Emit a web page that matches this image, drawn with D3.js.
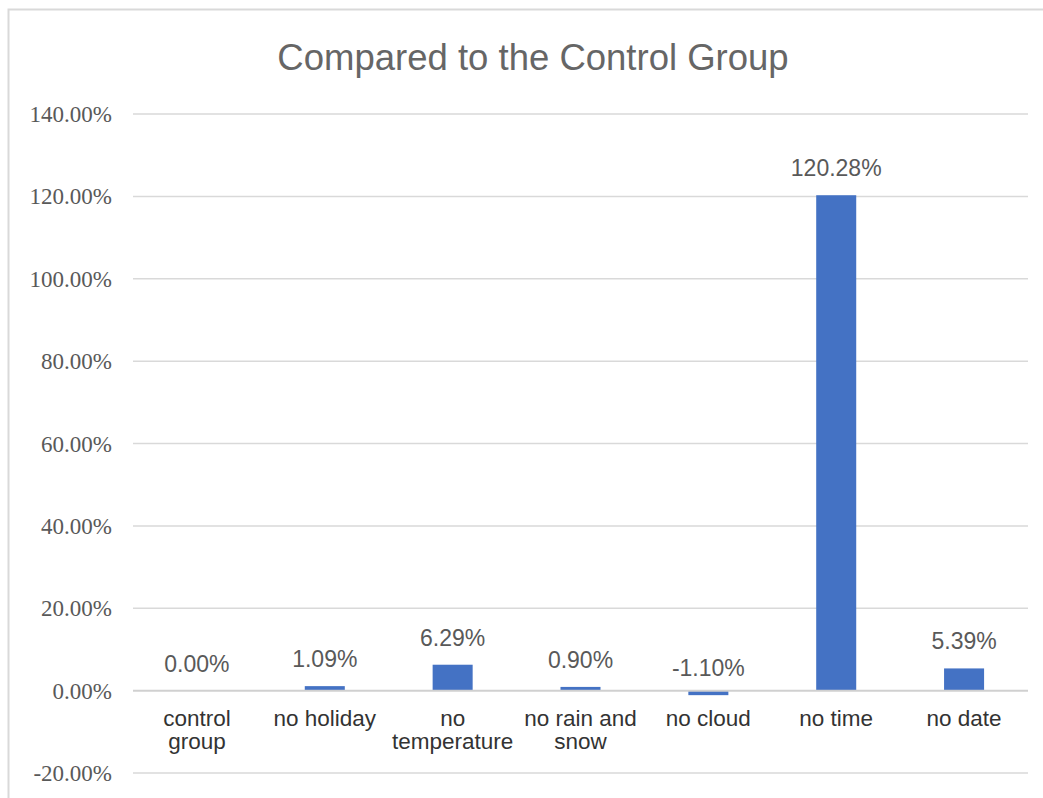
<!DOCTYPE html>
<html>
<head>
<meta charset="utf-8">
<script src="https://cdn.jsdelivr.net/npm/d3@7/dist/d3.min.js"></script>
<style>
html,body{margin:0;padding:0;background:#fff;}
svg{display:block;}
</style>
</head>
<body>
<svg id="chart" width="1043" height="798"></svg>
<script>
const categories = [["control","group"],["no holiday"],["no","temperature"],["no rain and","snow"],["no cloud"],["no time"],["no date"]];
const values = [0.00, 1.09, 6.29, 0.90, -1.10, 120.28, 5.39];
const yTicks = [-20, 0, 20, 40, 60, 80, 100, 120, 140];
const title = "Compared to the Control Group";

(function(){
const svg = d3.select("#chart");
const W = 1043, H = 798;
const mLeft = 133, mRight = 1028, mTop = 114, mBottom = 773;
const pct = d => d.toFixed(2) + "%";

// outer border
svg.append("path")
  .attr("d", `M8.5,${H+2} L8.5,9.5 L${W+2},9.5`)
  .attr("fill","none").attr("stroke","#d9d9d9").attr("stroke-width",2);

const x = d3.scaleBand().domain(d3.range(categories.length))
  .range([mLeft,mRight]).paddingInner(0.687).paddingOuter(0.3435);
const y = d3.scaleLinear().domain([-20,140]).range([mBottom, mTop]);

// gridlines
svg.append("g").selectAll("line").data(yTicks.filter(d=>d!==0)).join("line")
  .attr("x1",mLeft).attr("x2",mRight)
  .attr("y1",d=>y(d)).attr("y2",d=>y(d))
  .attr("stroke","#d9d9d9").attr("stroke-width",1.5);

// y axis labels
const yAxis = d3.axisLeft(y).tickValues(yTicks).tickSize(0).tickPadding(0)
  .tickFormat(pct);
const gy = svg.append("g").attr("transform",`translate(112,0)`).call(yAxis);
gy.attr("font-family", null).attr("font-size", null);
gy.select(".domain").remove();
gy.selectAll("text")
  .style("font-family","'Liberation Serif','DejaVu Serif','Times New Roman',serif")
  .style("font-size","23px").attr("fill","#595959").attr("dy","0.33em");

// bars
svg.append("g").selectAll("rect").data(values).join("rect")
  .attr("x",(d,i)=>x(i))
  .attr("width",x.bandwidth())
  .attr("y",d=>y(Math.max(0,d)))
  .attr("height",d=>Math.abs(y(d)-y(0)))
  .attr("fill","#4472c4");

// zero axis line
svg.append("line")
  .attr("x1",mLeft).attr("x2",mRight).attr("y1",y(0)).attr("y2",y(0))
  .attr("stroke","#d0d0d0").attr("stroke-width",2);

// data labels
svg.append("g").selectAll("text").data(values).join("text")
  .attr("x",(d,i)=>x(i)+x.bandwidth()/2)
  .attr("y",d=>y(d)-19)
  .attr("text-anchor","middle")
  .style("font-family","'Liberation Sans Narrow','Liberation Sans',Arial,sans-serif")
  .style("font-size","23px").attr("fill","#595959")
  .text(pct);

// category labels
const cg = svg.append("g").selectAll("text").data(categories).join("text")
  .attr("x",(d,i)=>x(i)+x.bandwidth()/2)
  .attr("y",726)
  .attr("text-anchor","middle")
  .style("font-family","'Liberation Sans',Arial,sans-serif")
  .style("font-size","22.5px").attr("fill","#333333");
cg.each(function(d,i){
  const t = d3.select(this);
  d.forEach((line,k)=>{
    t.append("tspan").attr("x",x(i)+x.bandwidth()/2).attr("dy",k===0?0:23).text(line);
  });
});

// title
svg.append("text").attr("x",533).attr("y",70).attr("text-anchor","middle")
  .style("font-family","'Liberation Sans',Arial,sans-serif")
  .style("font-size","36.5px").attr("fill","#666666").text(title);
})();
</script>
</body>
</html>
